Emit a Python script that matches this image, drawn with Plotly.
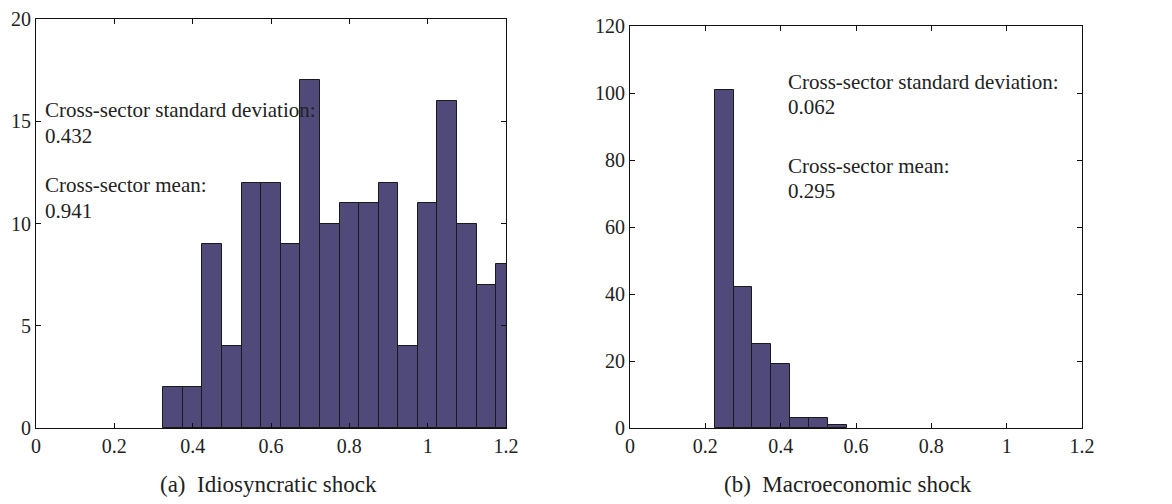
import plotly.graph_objects as go

# Data
idio_centers = [0.35, 0.40, 0.45, 0.50, 0.55, 0.60, 0.65, 0.70, 0.75, 0.80, 0.85, 0.90, 0.95, 1.00, 1.05, 1.10, 1.15, 1.20]
idio_counts = [2, 2, 9, 4, 12, 12, 9, 17, 10, 11, 11, 12, 4, 11, 16, 10, 7, 8]
macro_centers = [0.25, 0.30, 0.35, 0.40, 0.45, 0.50, 0.55]
macro_counts = [101, 42, 25, 19, 3, 3, 1]
bin_width = 0.05
x_ticks = [0, 0.2, 0.4, 0.6, 0.8, 1.0, 1.2]
x_ticklabels = ["0", "0.2", "0.4", "0.6", "0.8", "1", "1.2"]
idio_yticks = [0, 5, 10, 15, 20]
macro_yticks = [0, 20, 40, 60, 80, 100, 120]

FONT = "Liberation Serif, Times New Roman, serif"
BAR = "#4f4a7a"
OFF = 8  # page body margin
W, H = 1172 - OFF, 504 - OFF
# target pixel positions in the 1172x504 window
L, R, T, B = 36, 1082, 19, 428
PW, PH = R - L, B - T

def dx(px):
    return (px - L) / PW

def dy(px):
    return (B - px) / PH

fig = go.Figure()
fig.add_trace(go.Bar(x=idio_centers, y=idio_counts, width=bin_width, marker=dict(color=BAR, line=dict(color="#1a1a1a", width=1)), xaxis="x", yaxis="y", showlegend=False))
fig.add_trace(go.Bar(x=macro_centers, y=macro_counts, width=bin_width, marker=dict(color=BAR, line=dict(color="#1a1a1a", width=1)), xaxis="x2", yaxis="y2", showlegend=False))

axcommon = dict(showline=True, linecolor="#111", linewidth=1.2, mirror="allticks", ticks="inside", ticklen=5, tickcolor="#111", showgrid=False, zeroline=False, automargin=False, ticklabeloverflow="allow", tickfont=dict(family=FONT, size=20, color="#222"))

fig.update_layout(
    width=W, height=H, margin=dict(l=L - OFF, r=W - (R - OFF), t=T - OFF, b=H - (B - OFF), autoexpand=False),
    plot_bgcolor="white", paper_bgcolor="white", bargap=0,
    xaxis=dict(domain=[dx(36), dx(506)], range=[0, 1.2], tickvals=x_ticks, ticktext=x_ticklabels, anchor="y", **axcommon),
    yaxis=dict(domain=[0, 1], range=[0, 20], tickvals=idio_yticks, anchor="x", **axcommon),
    xaxis2=dict(domain=[dx(630), dx(1082)], range=[0, 1.2], tickvals=x_ticks, ticktext=x_ticklabels, anchor="y2", **axcommon),
    yaxis2=dict(domain=[0, dy(26)], range=[0, 120], tickvals=macro_yticks, anchor="x2", **axcommon),
)

ann_font = dict(family=FONT, size=21, color="#222")
left_texts = [("Cross-sector standard deviation:", 15.56), ("0.432", 14.3), ("Cross-sector mean:", 11.9), ("0.941", 10.6)]
for t, y in left_texts:
    fig.add_annotation(x=0.018, y=y, xref="x", yref="y", text=t, showarrow=False, xanchor="left", yanchor="middle", font=ann_font)
right_texts = [("Cross-sector standard deviation:", 103.3), ("0.062", 95.8), ("Cross-sector mean:", 78.2), ("0.295", 70.7)]
for t, y in right_texts:
    fig.add_annotation(x=0.414, y=y, xref="x2", yref="y2", text=t, showarrow=False, xanchor="left", yanchor="middle", font=ann_font)

cap_font = dict(family=FONT, size=23, color="#222")
fig.add_annotation(x=dx(268), y=dy(484), xref="paper", yref="paper", text="(a)  Idiosyncratic shock", showarrow=False, xanchor="center", yanchor="middle", font=cap_font)
fig.add_annotation(x=dx(848), y=dy(484), xref="paper", yref="paper", text="(b)  Macroeconomic shock", showarrow=False, xanchor="center", yanchor="middle", font=cap_font)

fig.write_html("out.html")
